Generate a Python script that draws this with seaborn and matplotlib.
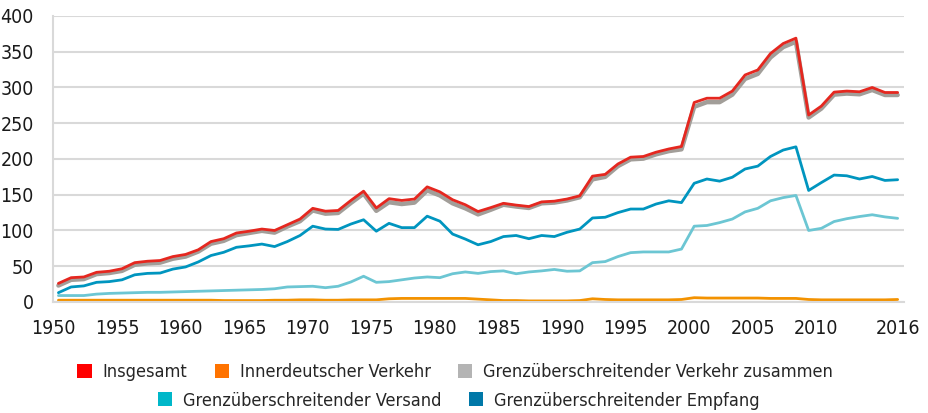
import numpy as np
import pandas as pd
import matplotlib
matplotlib.use("Agg")
import matplotlib.pyplot as plt
from matplotlib.patches import Patch
import seaborn as sns

jahre = list(range(1950, 2017))

insgesamt = [26, 34, 35, 41.5, 43, 46.5, 55, 57, 58, 63.5,
             66.5, 73, 84.5, 88.5, 96.5, 99, 102, 100, 108, 116,
             131, 127, 128, 142, 155, 131.5, 144.5, 142, 144, 161,
             154, 143, 136, 126.5, 132, 138, 135.5, 133.5, 140, 141,
             144, 148.5, 176, 178.5, 193, 202.5, 203.5, 209.5, 214, 217.5,
             279, 285, 285, 295, 317.5, 324.5, 347.5, 361.5, 369, 261.5,
             274, 293.5, 295, 294, 300, 293, 293]

innerdeutsch = [2.5, 2.5, 2.5, 2.5, 2.5, 2.5, 2.5, 2.5, 2.5, 2.5,
                2.5, 2.5, 2.5, 2, 2, 2, 2, 2.5, 2.5, 3,
                3, 2.5, 2.5, 3, 3, 3, 4.5, 5, 5, 5,
                5, 5, 5, 4, 3, 2, 2, 1.5, 1.5, 1.5,
                1.5, 2, 4.5, 3.5, 3, 3, 3, 3, 3, 3.5,
                6, 5.5, 5.5, 5.5, 5.5, 5.5, 5, 5, 5, 3.5,
                3, 3, 3, 3, 3, 3, 3.5]

grenz_zusammen = [23, 31, 32, 39, 40.5, 43.5, 52, 54, 55, 60.5,
                  63.5, 70.5, 81.5, 85.5, 93.5, 96.5, 99.5, 97, 105.5, 113,
                  128, 123.5, 124.5, 138.5, 151.5, 127.5, 139.5, 137, 139, 156,
                  149, 138, 131, 122.5, 129, 136, 133.5, 131.5, 138, 139,
                  142, 146.5, 171.5, 175, 190, 199.5, 200.5, 206.5, 211, 213.5,
                  273, 279.5, 279.5, 290, 312, 319, 342, 356.5, 364, 258,
                  270.5, 290, 291.5, 290.5, 296.5, 289.5, 289.5]

versand = [9, 9, 9, 11, 12, 12.5, 13, 13.5, 13.5, 14,
           14.5, 15, 15.5, 16, 16.5, 17, 17.5, 18.5, 21, 21.5,
           22, 20, 22, 28, 36, 27.5, 28.5, 31, 33.5, 35,
           34, 39.5, 42, 40, 42.5, 43.5, 39.5, 42, 43.5, 45.5,
           43, 43.5, 55, 56.5, 63.5, 69, 70, 70, 70, 74,
           106, 107, 111, 116, 126, 131, 141.5, 146, 149, 100,
           103, 112.5, 116.5, 119.5, 122, 119, 117]

empfang = [13, 21, 22.5, 27.5, 28.5, 31, 38, 40, 40.5, 46,
           49, 56, 65, 69.5, 76.5, 78.5, 81, 77.5, 84.5, 93,
           106, 102, 101.5, 109, 115, 99, 110, 104, 104, 120,
           113, 95, 88, 80, 84.5, 91.5, 93, 88.5, 93, 91.5,
           97.5, 102, 117.5, 118.5, 125, 130, 130, 137, 141.5, 139,
           166, 172, 169, 174.5, 186, 190, 203.5, 212.5, 217, 156,
           167, 177.5, 176.5, 172, 175.5, 170, 171]

namen = ["Insgesamt", "Innerdeutscher Verkehr",
         "Grenzüberschreitender Verkehr zusammen",
         "Grenzüberschreitender Versand", "Grenzüberschreitender Empfang"]

df = pd.DataFrame({
    "Jahr": jahre,
    namen[0]: insgesamt,
    namen[1]: innerdeutsch,
    namen[2]: grenz_zusammen,
    namen[3]: versand,
    namen[4]: empfang,
})
lang = df.melt(id_vars="Jahr", var_name="Reihe", value_name="Wert")

# Linienfarben und Legendenfarben
linien = {namen[0]: "#e5271f", namen[1]: "#f39200", namen[2]: "#a29e99",
          namen[3]: "#6cc6d3", namen[4]: "#0095bf"}
legende = {namen[0]: "#ff0000", namen[1]: "#ff7300", namen[2]: "#b4b4b4",
           namen[3]: "#00b7c9", namen[4]: "#0078a8"}
breite = {namen[0]: 2.0, namen[1]: 2.0, namen[2]: 3.2, namen[3]: 2.0, namen[4]: 2.0}

sns.set_style("white")
plt.rcParams["font.family"] = ["DejaVu Sans"]
plt.rcParams["font.stretch"] = "condensed"

fig = plt.figure(figsize=(9.29, 4.13), dpi=100)
ax = fig.add_axes([0.0574, 0.2688, 0.9157, 0.6925])

reihenfolge = [namen[3], namen[4], namen[1], namen[2], namen[0]]
for name in reihenfolge:
    sns.lineplot(data=lang[lang["Reihe"] == name], x="Jahr", y="Wert",
                 color=linien[name], linewidth=breite[name], ax=ax,
                 legend=False)

ax.set_xlim(1949.61, 2016.5)
ax.set_ylim(0, 400)
ax.set_yticks(range(0, 401, 50))
ax.set_xlabel("")
ax.set_ylabel("")

tick_jahre = list(range(1950, 2016, 5))
ax.set_xticks([j - 0.4 for j in tick_jahre])
ax.set_xticklabels([str(j) for j in tick_jahre[:-1]] + [""])
ax.set_xticks([2016], minor=True)
ax.set_xticklabels(["2016"], minor=True)

ax.grid(axis="y", color="#d9d9d9", linewidth=1.5)
ax.set_axisbelow(True)
for s in ["top", "right"]:
    ax.spines[s].set_visible(False)
ax.spines["left"].set_color("#d9d9d9")
ax.spines["left"].set_linewidth(1.5)
ax.spines["bottom"].set_color("#d9d9d9")
ax.spines["bottom"].set_linewidth(1.5)

ax.tick_params(axis="y", length=4, color="#d9d9d9", width=1.5, pad=10,
               labelsize=14, labelcolor="#1a1a1a")
ax.tick_params(axis="x", which="major", length=4, color="#d9d9d9", width=1.5,
               pad=8, labelsize=14, labelcolor="#1a1a1a")
ax.tick_params(axis="x", which="minor", length=0, pad=12,
               labelsize=14, labelcolor="#1a1a1a")

def kaestchen(liste):
    return [Patch(facecolor=legende[n], edgecolor="none", label=n) for n in liste]

leg1 = fig.legend(handles=kaestchen(namen[:3]), loc="center",
                  bbox_to_anchor=(0.490, 0.099), ncol=3, frameon=False,
                  fontsize=13, handlelength=0.8, handleheight=0.8,
                  handletextpad=0.6, columnspacing=1.5)
leg2 = fig.legend(handles=kaestchen(namen[3:]), loc="center",
                  bbox_to_anchor=(0.494, 0.030), ncol=2, frameon=False,
                  fontsize=13, handlelength=0.8, handleheight=0.8,
                  handletextpad=0.6, columnspacing=1.5)

fig.savefig("out.png", dpi=100)
